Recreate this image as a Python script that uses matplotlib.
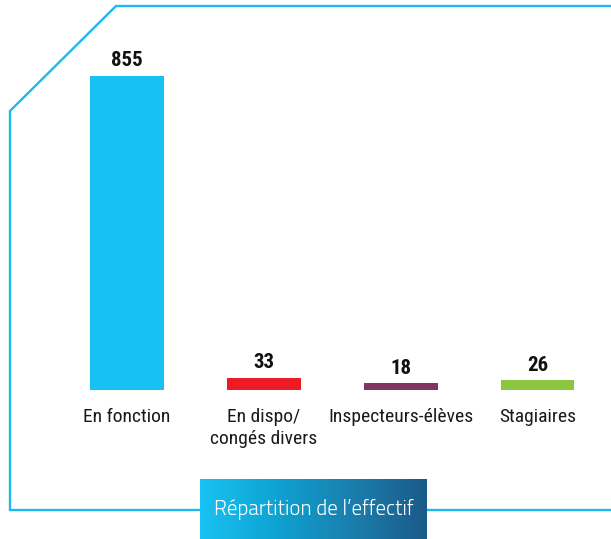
import numpy as np
import matplotlib
matplotlib.use("Agg")
import matplotlib.pyplot as plt
from matplotlib.colors import LinearSegmentedColormap

categories = ["En fonction", "En dispo/\ncongés divers", "Inspecteurs-élèves", "Stagiaires"]
values = [855, 33, 18, 26]
colors = ["#17c1f1", "#ed1c24", "#823560", "#8cc540"]
title = "Répartition de l\u2019effectif"

W, H = 611, 539
fig = plt.figure(figsize=(W / 100, H / 100), dpi=100)

narrow = ["Roboto Condensed", "Archivo Narrow", "DejaVu Sans"]

# frame + title box drawn in pixel coordinates
bg = fig.add_axes([0, 0, 1, 1])
bg.set_xlim(0, W)
bg.set_ylim(H, 0)
bg.axis("off")
frame_x = [W + 5, 116, 10, 10, W + 5]
frame_y = [6, 6, 111, 510, 510]
bg.plot(frame_x, frame_y, color="#1bb9ee", lw=1.7, solid_joinstyle="miter", clip_on=False)

grad = LinearSegmentedColormap.from_list("title_grad", ["#19c2f2", "#0ea3d2", "#1a7fae", "#1b5a88"])
bg.imshow(np.linspace(0, 1, 256)[None, :], cmap=grad, aspect="auto",
          extent=[200, 427, 539, 479], zorder=3)
bg.set_xlim(0, W)
bg.set_ylim(H, 0)
bg.text(313.5, 510, title, color="white", fontsize=15, family=["Titillium Web", "DejaVu Sans"],
        fontweight=300, ha="center", va="center", zorder=4)

# bars
left, right = 58.6, 605.9
base, top = 390, 76
ax = fig.add_axes([left / W, (H - base) / H, (right - left) / W, (base - top) / H])
ax.patch.set_alpha(0)
x = np.arange(len(values))
ax.bar(x, values, width=0.54, color=colors)
ax.set_xlim(-0.5, 3.5)
ax.set_ylim(0, 855)
for s in ax.spines.values():
    s.set_visible(False)
ax.set_yticks([])
ax.set_xticks(x)
ax.set_xticklabels(categories, family=narrow, fontsize=14, color="#1a1a1a", linespacing=1.25)
ax.tick_params(axis="x", length=0, pad=13)

for xi, v in zip(x, values):
    ax.annotate(str(v), (xi, v), xytext=(0, 7), textcoords="offset points",
                ha="center", va="baseline", family=narrow, fontweight="bold",
                fontsize=15, color="#111111")

fig.savefig("out.png", dpi=100)
